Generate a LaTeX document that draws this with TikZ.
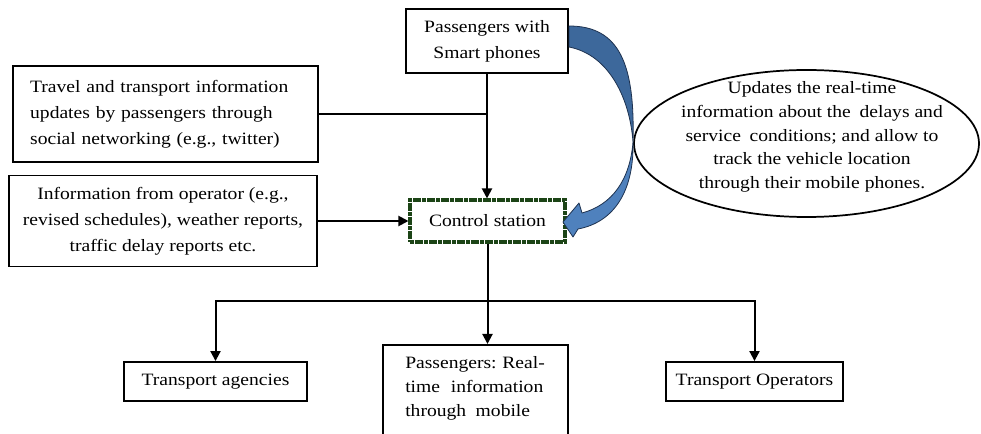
\documentclass[tikz,border=0pt]{standalone}
\usepackage{fontspec}
\setmainfont{Liberation Serif}[FakeStretch=1.13]
\usetikzlibrary{shapes.geometric,arrows.meta}
\definecolor{ctrlgreen}{RGB}{28,68,22}
\definecolor{arrdark}{RGB}{61,104,155}
\definecolor{arrlight}{RGB}{79,129,189}
\definecolor{arredge}{RGB}{30,50,80}
\tikzset{
 box/.style={draw=black, line width=1.4pt, rectangle, inner sep=0pt, align=center, font=\fontsize{13}{19.5}\selectfont},
 conn/.style={line width=1.5pt},
 arr/.style={conn, -{Triangle[length=7.5pt,width=7.5pt]}},
 txt/.style={inner sep=0pt, font=\fontsize{13}{19.5}\selectfont},
 blockarrow/.style={draw=arredge, line width=0.6pt, line join=round}
}
\begin{document}
\begin{tikzpicture}[x=0.75pt,y=-0.75pt]
\useasboundingbox (0,0) rectangle (981,434);
\clip (0,0) rectangle (981,434);

% boxes
\node[box, minimum width=121.5pt, minimum height=48pt] (pass) at (487,41) {Passengers with\\Smart phones};
\node[box, minimum width=228.75pt, minimum height=72pt, align=left, text width=203pt] (travel) at (165.5,114) {Travel and transport information\\updates by passengers through\\social networking (e.g., twitter)};
\node[box, minimum width=231pt, minimum height=68.25pt] (info) at (163,221) {Information from operator (e.g.,\\revised schedules), weather reports,\\traffic delay reports etc.};
\node[box, draw=ctrlgreen, line width=2.3pt, dash pattern=on 3pt off 0.5pt, minimum width=116.25pt, minimum height=31.5pt] (ctrl) at (487.5,221) {Control station};
\node[box, minimum width=137.25pt, minimum height=29.25pt] (ag) at (215.5,381.5) {Transport agencies};
\node[box, minimum width=132.75pt, minimum height=29.25pt] (op) at (754.5,381.5) {Transport Operators};
\node[box, minimum width=138.75pt, minimum height=90pt, anchor=north west] (rt) at (382,344) {};
\node[txt, anchor=west, align=left, font=\fontsize{13}{18}\selectfont] (rtt) at (405,388) {\makebox[103.5pt][s]{Passengers: Real-}\\\makebox[103.5pt][s]{time information}\\through\hspace{0.55em}mobile};

% ellipse
\node[draw, line width=1.3pt, ellipse, minimum width=258.75pt, minimum height=110.25pt, inner sep=0pt] (ell) at (806.5,143.5) {};
\node[txt, align=center, font=\fontsize{13}{17.8}\selectfont] (elltxt) at (812,137) {Updates the real-time\\information about the\hspace{0.5em}delays and\\service\hspace{0.5em}conditions; and allow to\\track the vehicle location\\through their mobile phones.};

% blue curved block arrow
\filldraw[blockarrow, fill=arrdark] (569,26) .. controls (620,26) and (635,65) .. (633,142) .. controls (630,100) and (610,55) .. (569,47) -- cycle;
\filldraw[blockarrow, fill=arrlight] (633,142) .. controls (630,180) and (612,205) .. (582,213) -- (579,203) -- (563,222) -- (573,237) -- (578,229) .. controls (615,222) and (634,190) .. (633,142) -- cycle;

% connectors
\draw[arr] (pass.south) -- (pass.south |- ctrl.north);
\draw[conn] (travel.east) -- (travel.east -| pass.south);
\draw[arr] (info.east) -- (ctrl.west);
\draw[arr] (ctrl.south) -- (ctrl.south |- rt.north);
\coordinate (hub) at (487.5,301);
\draw[arr] (hub) -| (ag.north);
\draw[arr] (hub) -| (op.north);
\end{tikzpicture}
\end{document}
